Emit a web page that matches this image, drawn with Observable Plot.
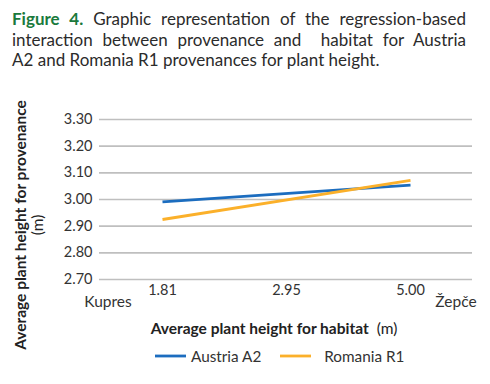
<!DOCTYPE html>
<html>
<head>
<meta charset="utf-8">
<script src="https://cdn.jsdelivr.net/npm/d3@7"></script>
<script src="https://cdn.jsdelivr.net/npm/@observablehq/plot@0.6"></script>
<style>
  html, body { margin: 0; padding: 0; background: #fff; }
  body { width: 490px; height: 384px; position: relative; overflow: hidden; font-family: Lato, sans-serif; }
  #title { position: absolute; left: 12px; top: 9px; width: 454px; font-size: 17px; line-height: 20.5px; color: #2b2b2b; }
  #title div.j { text-align: justify; text-align-last: justify; }
  #title b { color: #1a7a3c; }
  #chart { position: absolute; left: 0; top: 80px; }
  #legend { position: absolute; top: 347px; left: 155px; font-size: 15.3px; color: #333; display: flex; align-items: center; }
  #legend .item { display: flex; align-items: center; }
  #legend svg { margin-right: 5px; }
</style>
</head>
<body>
<div id="title">
  <div class="j"><b>Figure 4.</b> Graphic representation of the regression-based</div>
  <div class="j">interaction between provenance and&nbsp; habitat for Austria</div>
  <div>A2 and Romania R1 provenances for plant height.</div>
</div>
<div id="chart"></div>
<div id="legend"></div>
<script>
const xTicks = ["1.81", "2.95", "5.00"];
const yTicks = [2.70, 2.80, 2.90, 3.00, 3.10, 3.20, 3.30];
const seriesNames = ["Austria A2", "Romania R1"];
const seriesColors = ["#1c6dbf", "#fbb02a"];
const lineX = ["1.81", "5.00"];
const austria = [2.991, 3.054];
const romania = [2.925, 3.072];
const habitatLow = "Kupres";
const habitatHigh = "Žepče";

const rows = [];
lineX.forEach((x, i) => {
  rows.push({series: seriesNames[0], habitat: x, value: austria[i]});
  rows.push({series: seriesNames[1], habitat: x, value: romania[i]});
});

const plot = Plot.plot({
  width: 490,
  height: 304,
  marginLeft: 99,
  marginRight: 18,
  marginTop: 39,
  marginBottom: 105,
  style: {fontFamily: "Lato, sans-serif", fontSize: "14.5px", color: "#333", background: "transparent"},
  x: {type: "point", domain: xTicks, padding: 0.5, label: null, tickSize: 0, tickPadding: 5},
  y: {domain: [2.70, 3.30], ticks: yTicks, tickFormat: d3.format(".2f"), label: null, tickSize: 0, tickPadding: 7},
  color: {domain: seriesNames, range: seriesColors},
  marks: [
    Plot.ruleY(yTicks, {stroke: "#bfbfbf", strokeWidth: 1.6}),
    Plot.line(rows, {x: "habitat", y: "value", z: "series", stroke: "series", strokeWidth: 2.8, strokeLinecap: "butt"})
  ]
});
document.getElementById("chart").appendChild(plot);

// Extra labels
const svg = d3.select(plot);
const fx0 = 99, fx1 = 490 - 18, fy1 = 304 - 105;
svg.append("text").attr("x", fx0 + 9).attr("y", fy1 + 28).attr("text-anchor", "middle")
  .attr("fill", "#333").style("font-size", "15.5px").text(habitatLow);
svg.append("text").attr("x", fx1 - 16).attr("y", fy1 + 28).attr("text-anchor", "middle")
  .attr("fill", "#333").style("font-size", "15.5px").text(habitatHigh);

const xt = svg.append("text").attr("x", 274).attr("y", fy1 + 55).attr("text-anchor", "middle")
  .attr("fill", "#222").style("font-size", "15.5px");
xt.append("tspan").attr("font-weight", "bold").text("Average plant height for habitat");
xt.append("tspan").text(" \u00a0(m)");

svg.append("text").attr("transform", "translate(26,145) rotate(-90)").attr("text-anchor", "middle")
  .attr("fill", "#222").style("font-size", "15.5px").attr("font-weight", "bold").text("Average plant height for provenance");
svg.append("text").attr("transform", "translate(43,145) rotate(-90)").attr("text-anchor", "middle")
  .attr("fill", "#222").style("font-size", "15.5px").text("(m)");

// Legend
const legend = d3.select("#legend");
seriesNames.forEach((name, i) => {
  const item = legend.append("div").attr("class", "item").style("margin-right", i === 0 ? "19px" : "0");
  const s = item.append("svg").attr("width", 31).attr("height", 10);
  s.append("line").attr("x1", 0).attr("x2", 31).attr("y1", 5).attr("y2", 5)
    .attr("stroke", seriesColors[i]).attr("stroke-width", 2.8);
  item.append("span").text(name).style("margin-left", i === 0 ? "0" : "8px");
});
</script>
</body>
</html>
